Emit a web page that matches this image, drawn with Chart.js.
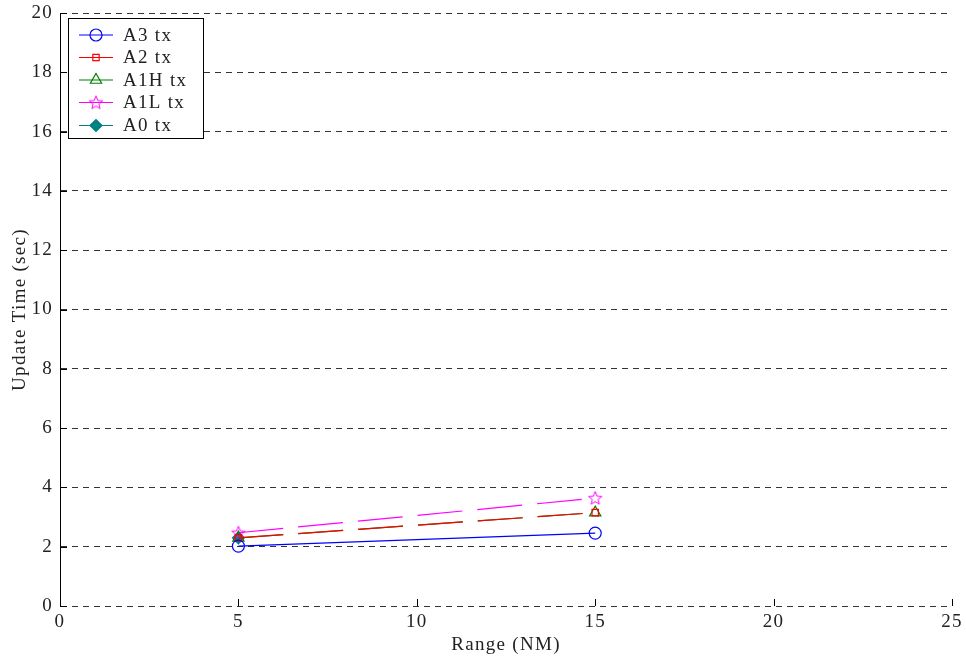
<!DOCTYPE html>
<html lang="en">
<head>
    <meta charset="UTF-8">
    <title>Update Time vs Range</title>
    <script src="https://cdn.jsdelivr.net/npm/chart.js"></script>
    <style>
        html, body { margin: 0; padding: 0; background: #fff; }
        #wrap { width: 966px; height: 662px; }
    </style>
</head>
<body>
    <div id="wrap"><canvas id="chart" width="966" height="662"></canvas></div>

    <script>
        // values
        const rangeNM = [5, 15];
        const a3 = [2.02, 2.46];
        const a2 = [2.3, 3.15];
        const a1h = [2.3, 3.15];
        const a1l = [2.47, 3.64];
        const a0 = [2.3, null];
        const xTicks = [0, 5, 10, 15, 20, 25];
        const yTicks = [0, 2, 4, 6, 8, 10, 12, 14, 16, 18, 20];

        const FONT = "'Liberation Serif', 'DejaVu Serif', serif";
        const SPACING = '1.3px';

        // outlined pentagram marker
        function makeStar(color) {
            const c = document.createElement('canvas');
            c.width = 16; c.height = 16;
            const g = c.getContext('2d');
            g.strokeStyle = color;
            g.lineWidth = 1;
            g.beginPath();
            for (let i = 0; i < 10; i++) {
                const r = i % 2 === 0 ? 7 : 3;
                const a = -Math.PI / 2 + i * Math.PI / 5;
                const px = 8 + r * Math.cos(a), py = 8.5 + r * Math.sin(a);
                if (i === 0) g.moveTo(px, py); else g.lineTo(px, py);
            }
            g.closePath();
            g.stroke();
            return c;
        }
        const starImg = makeStar('#ff00ff');

        function pts(ys) {
            return rangeNM.map((x, i) => ({ x: x, y: ys[i] }));
        }

        const datasets = [
            { label: 'A3 tx', data: pts(a3), borderColor: '#0000ff', pointStyle: 'circle', pointRadius: 6, dash: [] },
            { label: 'A2 tx', data: pts(a2), borderColor: '#ff0000', pointStyle: 'rect', pointRadius: 4.5, dash: [45, 15] },
            { label: 'A1H tx', data: pts(a1h), borderColor: '#008000', pointStyle: 'triangle', pointRadius: 6.5, dash: [45, 15] },
            { label: 'A1L tx', data: pts(a1l), borderColor: '#ff00ff', pointStyle: starImg, pointRadius: 7, dash: [45, 15] },
            { label: 'A0 tx', data: pts(a0), borderColor: '#008080', pointStyle: 'rectRot', pointRadius: 6, dash: [], fill: true }
        ].map(d => ({
            label: d.label,
            data: d.data,
            borderColor: d.borderColor,
            backgroundColor: d.fill ? d.borderColor : 'rgba(0,0,0,0)',
            pointBackgroundColor: d.fill ? d.borderColor : 'rgba(0,0,0,0)',
            pointBorderColor: d.borderColor,
            pointStyle: d.pointStyle,
            pointRadius: d.pointRadius,
            pointBorderWidth: 1.2,
            borderWidth: 1.2,
            borderDash: d.dash,
            tension: 0,
            spanGaps: false
        }));

        // wider letter spacing, like the original serif
        const spacing = {
            id: 'spacing',
            beforeLayout(chart) { chart.ctx.letterSpacing = SPACING; },
            beforeDraw(chart) { chart.ctx.letterSpacing = SPACING; }
        };

        // inward tick marks + boxed legend
        const extras = {
            id: 'extras',
            afterDraw(chart) {
                const ctx = chart.ctx;
                const xs = chart.scales.x, ys = chart.scales.y;
                const area = chart.chartArea;
                ctx.save();
                ctx.strokeStyle = '#000';
                ctx.lineWidth = 1;
                ctx.beginPath();
                xTicks.forEach(v => {
                    const px = Math.round(xs.getPixelForValue(v)) + 0.5;
                    ctx.moveTo(px, area.bottom);
                    ctx.lineTo(px, area.bottom - 7);
                });
                yTicks.forEach(v => {
                    const py = Math.round(ys.getPixelForValue(v)) + 0.5;
                    ctx.moveTo(area.left, py);
                    ctx.lineTo(area.left + 7, py);
                });
                ctx.stroke();

                // legend
                const bx = 68.5, by = 18.5, bw = 135, bh = 120;
                ctx.fillStyle = '#fff';
                ctx.fillRect(bx, by, bw, bh);
                ctx.strokeRect(bx, by, bw, bh);
                const rowY = [35, 57.5, 80, 102.5, 125.5];
                ctx.font = '19px ' + FONT;
                ctx.letterSpacing = SPACING;
                ctx.textBaseline = 'middle';
                chart.data.datasets.forEach((ds, i) => {
                    const y = rowY[i];
                    ctx.strokeStyle = ds.borderColor;
                    ctx.lineWidth = 1.2;
                    ctx.setLineDash([]);
                    ctx.beginPath();
                    ctx.moveTo(79, y);
                    ctx.lineTo(113, y);
                    ctx.stroke();
                    ctx.fillStyle = ds.pointBackgroundColor;
                    Chart.helpers.drawPoint(ctx, {
                        pointStyle: ds.pointStyle,
                        radius: ds.pointRadius,
                        rotation: 0,
                        borderWidth: 1.2
                    }, 96, y);
                    ctx.fillStyle = '#222';
                    ctx.fillText(ds.label, 123, y + 1);
                });
                ctx.restore();
            }
        };

        new Chart(document.getElementById('chart'), {
            type: 'line',
            data: { datasets: datasets },
            options: {
                responsive: false,
                animation: false,
                layout: { padding: { top: 13, right: 14, left: 0, bottom: 0 } },
                plugins: { legend: { display: false }, tooltip: { enabled: false } },
                scales: {
                    x: {
                        type: 'linear',
                        min: 0, max: 25,
                        afterBuildTicks: s => { s.ticks = xTicks.map(v => ({ value: v })); },
                        afterFit: s => { s.height = 56; s.paddingLeft = 0; s.paddingRight = 0; },
                        grid: { display: false, drawTicks: false, tickLength: 0 },
                        border: { display: false },
                        ticks: { color: '#222', padding: 5, font: { family: FONT, size: 19 }, maxRotation: 0 },
                        title: { display: true, text: 'Range (NM)', color: '#222', padding: { top: 0, bottom: 6 }, font: { family: FONT, size: 19 } }
                    },
                    y: {
                        type: 'linear',
                        min: 0, max: 20,
                        afterBuildTicks: s => { s.ticks = yTicks.map(v => ({ value: v })); },
                        afterFit: s => { s.width = 60; s.paddingTop = 0; s.paddingBottom = 0; },
                        grid: { color: '#333', lineWidth: 1, drawTicks: false, tickLength: 0 },
                        border: { display: true, color: '#000', width: 1, dash: [6, 5] },
                        ticks: { color: '#222', padding: 7, font: { family: FONT, size: 19 } },
                        title: { display: true, text: 'Update Time (sec)', color: '#222', padding: { top: 9, bottom: 0 }, font: { family: FONT, size: 19 } }
                    }
                }
            },
            plugins: [spacing, extras]
        });
    </script>
</body>
</html>
